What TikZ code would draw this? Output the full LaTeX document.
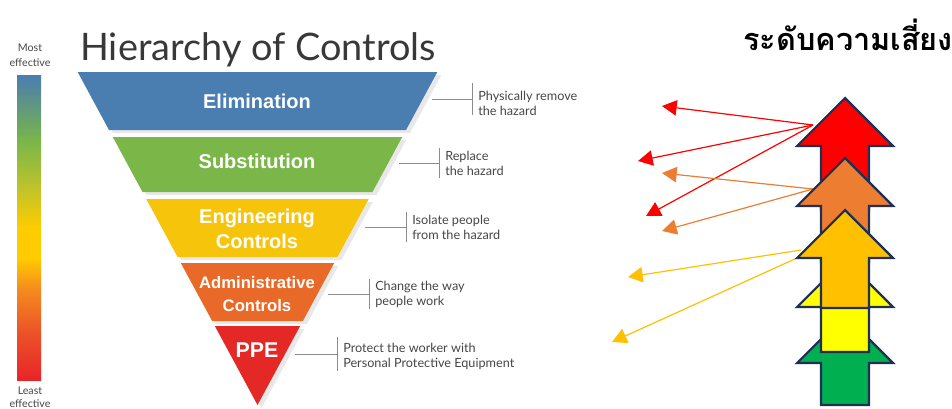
\documentclass[tikz,border=0pt]{standalone}
\usepackage{fontspec}
\setmainfont{Lato}
\newfontfamily\labfont{Liberation Sans}
\newfontfamily\thaifont[Script=Thai]{Loma}
\usetikzlibrary{arrows.meta}

\definecolor{elim}{RGB}{74,125,176}
\definecolor{subst}{RGB}{122,182,72}
\definecolor{engin}{RGB}{246,196,10}
\definecolor{admin}{RGB}{233,106,40}
\definecolor{ppe}{RGB}{228,40,38}
\definecolor{txtgray}{RGB}{70,70,70}
\definecolor{linegray}{RGB}{140,140,140}
\definecolor{outline}{RGB}{31,48,84}
\definecolor{riskred}{RGB}{255,0,0}
\definecolor{riskorange}{RGB}{237,125,49}
\definecolor{riskgold}{RGB}{255,192,0}
\definecolor{riskyellow}{RGB}{255,255,0}
\definecolor{riskgreen}{RGB}{0,176,80}
\definecolor{barblue}{RGB}{74,125,176}
\definecolor{bargreen}{RGB}{122,182,72}
\definecolor{barolive}{RGB}{196,196,40}
\definecolor{baryellow}{RGB}{255,204,0}
\definecolor{barorange}{RGB}{245,140,30}
\definecolor{barredor}{RGB}{236,84,40}
\definecolor{barred}{RGB}{232,36,40}

\pgfdeclareverticalshading{effbar}{100bp}{color(0bp)=(barred); color(25bp)=(barred);
  color(33bp)=(barredor); color(40bp)=(barorange); color(45bp)=(baryellow);
  color(50bp)=(baryellow); color(56bp)=(barolive); color(64bp)=(bargreen);
  color(75bp)=(barblue); color(100bp)=(barblue)}

\tikzset{
  band/.style={font=\labfont\bfseries\fontsize{15}{19}\selectfont,text=white,align=center},
  note/.style={font=\fontsize{9.5}{11.3}\selectfont,text=txtgray,align=left,anchor=west,inner sep=0pt},
  tick/.style={draw=linegray,line width=0.6pt},
  blockarrow/.style={draw=outline,line width=1.6pt,line join=miter},
  riskline/.style={line width=0.9pt,-{Triangle[length=11pt,width=11.5pt]}}
}

% block arrow: tip y, bottom y, colour
\newcommand{\riskarrow}[3]{%
  \filldraw[blockarrow,fill=#3] (845,#1) -- (893,#1+48) -- (869,#1+48) -- (869,#2)
    -- (821,#2) -- (821,#1+48) -- (797,#1+48) -- cycle;}

\begin{document}
\begin{tikzpicture}[x=0.75pt,y=-0.75pt]
  \useasboundingbox (0,0) rectangle (952,408);

  % effectiveness bar
  \shade[shading=effbar] (17,75) rectangle (41,380);
  \node[font=\fontsize{8}{11}\selectfont,text=txtgray,align=center] (most) at (30,55) {Most\\effective};
  \node[font=\fontsize{8}{9.5}\selectfont,text=txtgray,align=center] (least) at (30,397) {Least\\effective};

  \node[anchor=base west,inner sep=0pt,font=\fontsize{28.4}{34}\selectfont,text=black!78] (title) at (80,60) {Hierarchy of Controls};

  % funnel (shadow first)
  \begin{scope}[shift={(4,3)}]
  \foreach \t/\b in {72/130,137/192,199/257,263/321,326/405}
    \fill[black!9] ({257.5-0.54*(405-\t)},\t) -- ({257.5+0.54*(405-\t)},\t)
      -- ({257.5+0.54*(405-\b)},\b) -- ({257.5-0.54*(405-\b)},\b) -- cycle;
  \end{scope}
  \foreach \t/\b/\c in {72/130/elim,137/192/subst,199/257/engin,263/321/admin,326/405/ppe}
    \fill[\c] ({257.5-0.54*(405-\t)},\t) -- ({257.5+0.54*(405-\t)},\t)
      -- ({257.5+0.54*(405-\b)},\b) -- ({257.5-0.54*(405-\b)},\b) -- cycle;

  \node[band] (b1) at (257,101) {Elimination};
  \node[band] (b2) at (257,161) {Substitution};
  \node[band] (b3) at (257,229) {Engineering\\Controls};
  \node[band,font=\labfont\bfseries\fontsize{12.5}{17.5}\selectfont] (b4) at (257,294) {Administrative\\Controls};
  \node[band,font=\labfont\bfseries\fontsize{16}{19}\selectfont] (b5) at (257,350) {PPE};

  % callouts
  \foreach \n/\xa/\xb/\y/\h in {1/432/472/99/16,2/399/439/163/15,3/365/406/227/15,4/328/369/294/15,5/295/337/354/17}{
    \coordinate (l\n) at (\xa,\y);
    \coordinate (m\n) at (\xb,\y);
    \coordinate (u\n) at (\xb,\y-\h);
    \coordinate (d\n) at (\xb,\y+\h);
    \draw[tick] (l\n) -- (m\n);
    \draw[tick] (u\n) -- (d\n);
  }
  \node[note] (c1) at ([xshift=4.5pt,yshift=-3pt]m1) {Physically remove\\the hazard};
  \node[note] (c2) at ([xshift=4.5pt,yshift=-0.5pt]m2) {Replace\\the hazard};
  \node[note] (c3) at ([xshift=4.5pt,yshift=-0.5pt]m3) {Isolate people\\from the hazard};
  \node[note] (c4) at ([xshift=4.5pt,yshift=0pt]m4) {Change the way\\people work};
  \node[note] (c5) at ([xshift=4.5pt,yshift=-1.5pt]m5) {Protect the worker with\\Personal Protective Equipment};

  % risk level
  \node[anchor=base west,inner sep=0pt,font=\thaifont\bfseries\fontsize{23}{28}\selectfont] (risk) at (743,50) {ระดับความเสี่ยง};

  \coordinate (r0) at (813,125);
  \coordinate (r1) at (662,106);
  \coordinate (r2) at (638,161);
  \coordinate (r3) at (646,216);
  \coordinate (o0) at (813,189);
  \coordinate (o1) at (662,173);
  \coordinate (o2) at (662,231);
  \coordinate (g0) at (801,250);
  \coordinate (g1) at (628,277);
  \coordinate (g2) at (797,258);
  \coordinate (g3) at (612,342);
  \foreach \from/\to in {r0/r1,r0/r2,r0/r3}
    \draw[riskline,riskred] (\from) -- (\to);
  \foreach \from/\to in {o0/o1,o0/o2}
    \draw[riskline,riskorange] (\from) -- (\to);
  \foreach \from/\to in {g0/g1,g2/g3}
    \draw[riskline,riskgold] (\from) -- (\to);

  \riskarrow{315}{405}{riskgreen}
  \riskarrow{259}{352}{riskyellow}
  \riskarrow{98}{210}{riskred}
  \riskarrow{158}{262}{riskorange}
  \riskarrow{210}{308}{riskgold}
\end{tikzpicture}
\end{document}
